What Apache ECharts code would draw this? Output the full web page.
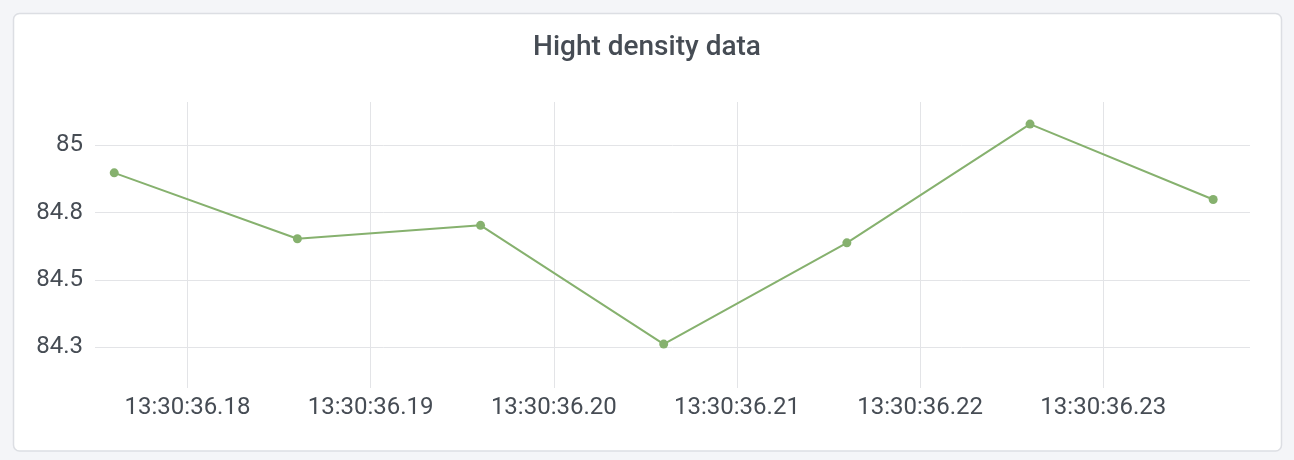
<!DOCTYPE html>
<html>
<head>
<meta charset="utf-8">
<script src="https://cdn.jsdelivr.net/npm/echarts@6/dist/echarts.min.js"></script>
<style>
  html, body { margin: 0; padding: 0; background: #f4f5f8; }
  #chart { width: 1294px; height: 460px; }
</style>
</head>
<body>
<div id="chart"></div>
<script>
// Data (x in milliseconds after 13:30:36)
const titleText = 'Hight density data';
const timeMs = [176, 186, 196, 206, 216, 226, 236];
const values = [84.898, 84.653, 84.703, 84.262, 84.638, 85.079, 84.799];
const xTickMs = [180, 190, 200, 210, 220, 230];
const xTickLabels = ['13:30:36.18', '13:30:36.19', '13:30:36.20', '13:30:36.21', '13:30:36.22', '13:30:36.23'];
const yTicks = [84.25, 84.5, 84.75, 85];

const textColor = '#464c54';
const gridColor = '#e3e4e7';
const lineColor = '#86b16e';

const chart = echarts.init(document.getElementById('chart'), null, { renderer: 'canvas' });
chart.setOption({
  backgroundColor: 'transparent',
  animation: false,
  graphic: [{
    type: 'rect',
    z: -10,
    silent: true,
    shape: { x: 13.5, y: 13.5, width: 1268, height: 437.5, r: 6 },
    style: { fill: '#ffffff', stroke: '#dcdee3', lineWidth: 1.5 }
  }],
  title: {
    text: titleText,
    left: 'center',
    top: 28,
    textStyle: {
      fontFamily: 'Roboto',
      fontSize: 28,
      fontWeight: 500,
      color: textColor,
      lineHeight: 30
    }
  },
  grid: {
    left: 95,
    right: 44,
    top: 102,
    bottom: 72,
    outerBoundsMode: 'none',
    containLabel: false
  },
  xAxis: {
    type: 'value',
    min: 174.95,
    max: 238.01,
    axisLine: { show: false },
    axisTick: { show: false, customValues: xTickMs },
    splitLine: { show: true, lineStyle: { color: gridColor, width: 1 } },
    axisLabel: {
      customValues: xTickMs,
      margin: 8,
      fontFamily: 'Roboto',
      fontSize: 24,
      color: textColor,
      formatter: function (v) {
        const i = xTickMs.indexOf(Math.round(v));
        return i >= 0 ? xTickLabels[i] : '';
      }
    }
  },
  yAxis: {
    type: 'value',
    min: 84.099,
    max: 85.161,
    axisLine: { show: false },
    axisTick: { show: false, customValues: yTicks },
    splitLine: { show: true, lineStyle: { color: gridColor, width: 1 } },
    axisLabel: {
      customValues: yTicks,
      margin: 12,
      fontFamily: 'Roboto',
      fontSize: 24,
      color: textColor,
      formatter: function (v) {
        return (+v.toFixed(1)).toString();
      }
    }
  },
  series: [{
    type: 'line',
    data: timeMs.map((t, i) => [t, values[i]]),
    symbol: 'circle',
    symbolSize: 9,
    showSymbol: true,
    lineStyle: { color: lineColor, width: 2 },
    itemStyle: { color: lineColor },
    emphasis: { disabled: true }
  }]
});
</script>
</body>
</html>
